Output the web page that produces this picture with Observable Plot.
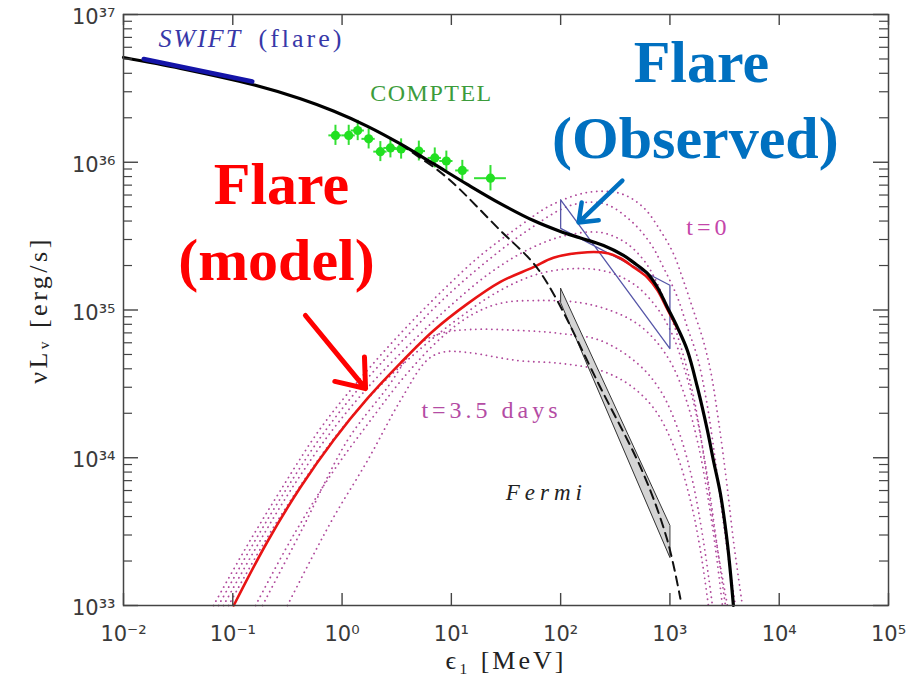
<!DOCTYPE html>
<html>
<head>
<meta charset="utf-8">
<script src="https://cdn.jsdelivr.net/npm/d3@7"></script>
<script src="https://cdn.jsdelivr.net/npm/@observablehq/plot@0.6"></script>
<style>
  html, body { margin: 0; padding: 0; background: #fff; }
  #chart { width: 911px; height: 685px; }
</style>
</head>
<body>
<div id="chart"></div>
<script>
// ---------- axis decades ----------
const xDecades = [1e-2, 1e-1, 1e0, 1e1, 1e2, 1e3, 1e4, 1e5];
const yDecades = [1e33, 1e34, 1e35, 1e36, 1e37];
const yMinorSteps = [2, 3, 4, 5, 6, 7, 8, 9];

// ---------- observations ----------
// SWIFT flare spectrum (energy in MeV, nuL_nu in erg/s)
const swiftE = [0.0153, 0.151];
const swiftL = [5.0e36, 3.52e36];

// COMPTEL points with error bars
const comptelE   = [0.87, 1.15, 1.39, 1.75, 2.24, 2.77, 3.47, 5.04, 7.05, 9.0, 12.6, 22.8];
const comptelElo = [0.757, 1.0, 1.21, 1.52, 1.95, 2.41, 3.02, 4.38, 6.13, 7.83, 10.96, 16.3];
const comptelEhi = [1.0, 1.32, 1.60, 2.01, 2.58, 3.19, 3.99, 5.80, 8.11, 10.35, 14.5, 31.9];
const comptelL   = [1.52e36, 1.52e36, 1.64e36, 1.44e36, 1.18e36, 1.25e36, 1.23e36, 1.19e36, 1.07e36, 1.02e36, 8.8e35, 7.8e35];
const comptelLlo = [1.30e36, 1.30e36, 1.40e36, 1.23e36, 1.01e36, 1.07e36, 1.05e36, 1.02e36, 9.15e35, 8.73e35, 7.5e35, 6.4e35];
const comptelLhi = [1.78e36, 1.78e36, 1.92e36, 1.68e36, 1.38e36, 1.46e36, 1.44e36, 1.39e36, 1.25e36, 1.19e36, 1.03e36, 9.5e35];

// Fermi butterfly (edges at 100 MeV and 1 GeV)
const fermiE  = [100, 1000];
const fermiLo = [1.12e35, 2.11e33];
const fermiHi = [1.40e35, 3.48e33];

// observed flare butterfly (crossed outline)
const observedOutline = [[100, 5.57e35], [1000, 5.48e34], [1000, 1.47e35], [100, 3.57e35], [100, 5.57e35]];

// ---------- model curves ----------
// total emission (solid black)
const totalModel = [[0.01, 5.12e36], [0.0333, 4.32e36], [0.151, 3.36e36], [0.416, 2.69e36], [0.834, 2.22e36],
  [1.71, 1.75e36], [3.42, 1.33e36], [6.85, 9.77e35], [14.0, 7.08e35], [28.1, 5.25e35], [56.4, 4.03e35],
  [99.6, 3.40e35], [152, 3.07e35], [247, 2.73e35], [376, 2.34e35], [464, 2.10e35], [622, 1.77e35],
  [769, 1.42e35], [949, 1.04e35], [1171, 7.62e34], [1445, 5.32e34], [1786, 2.99e34], [2203, 1.53e34],
  [2500, 9.58e33], [2898, 5.7e33], [3357, 2.63e33], [3811, 1e33]];

// quiescent component (dashed black)
const quiescentModel = [[3.42, 1.33e36], [4.50, 1.15e36], [7.16, 9.08e35], [10.5, 7.18e35], [28.1, 3.45e35],
  [56.4, 2.07e35], [85.9, 1.29e35], [231, 2.99e34], [572, 7.8e33], [949, 2.75e33], [1247, 1.11e33]];

// flare component (solid red)
const flareModel = [[0.102, 1e33], [0.2066, 2.69e33], [0.416, 6.31e33], [0.839, 1.32e34], [1.70, 2.51e34],
  [3.42, 4.37e34], [6.85, 7.24e34], [14.0, 1.10e35], [28.1, 1.55e35], [56.4, 1.95e35], [85.9, 2.26e35],
  [176, 2.46e35], [268, 2.42e35], [352, 2.24e35], [464, 1.95e35], [622, 1.66e35], [769, 1.36e35],
  [949, 1.01e35], [1171, 7.5e34]];

// time snapshots of the cooling spectrum, t=0 (cooling0) to t=3.5 days (cooling6)
const cooling0 = [[0.0666, 1e33], [0.1306, 2.43e33], [0.273, 6.0e33], [0.634, 1.58e34], [1.47, 3.44e34],
  [3.42, 6.93e34], [7.94, 1.31e35], [18.5, 2.34e35], [42.9, 3.73e35], [80.7, 5.10e35], [176, 6.24e35],
  [352, 6.15e35], [572, 4.94e35], [818, 3.45e35], [1076, 2.41e35], [1329, 1.58e35], [1641, 9.92e34],
  [1982, 6.51e34], [2350, 3.90e34], [2780, 1.79e34], [3289, 7.02e33], [3811, 2.75e33], [4603, 1e33]];
const cooling1 = [[0.0740, 1e33], [0.1452, 2.43e33], [0.303, 6.0e33], [0.705, 1.53e34], [1.64, 3.33e34],
  [3.80, 6.51e34], [8.83, 1.22e35], [20.5, 2.10e35], [49.7, 3.45e35], [123, 5.10e35], [247, 5.26e35],
  [435, 4.04e35], [663, 2.82e35], [873, 1.94e35], [1171, 1.22e35], [1445, 7.62e34], [1786, 4.77e34],
  [2158, 2.44e34], [2606, 9.58e33], [3155, 3.22e33], [3972, 1e33]];
const cooling2 = [[0.0822, 1e33], [0.1615, 2.43e33], [0.337, 6.0e33], [0.783, 1.48e34], [1.82, 3.13e34],
  [4.23, 5.93e34], [9.82, 1.07e35], [22.8, 1.79e35], [52.9, 2.61e35], [111, 3.19e35], [231, 3.35e35],
  [392, 2.86e35], [597, 2.10e35], [818, 1.36e35], [1054, 8.49e34], [1329, 4.92e34], [1675, 2.44e34],
  [2069, 9.58e33], [2553, 3.22e33], [3357, 1e33]];
const cooling3 = [[0.0914, 1e33], [0.187, 2.55e33], [0.399, 6.19e33], [0.927, 1.48e34], [2.15, 2.99e34],
  [5.00, 5.32e34], [11.6, 8.76e34], [28.1, 1.36e35], [65.3, 1.77e35], [152, 1.91e35], [286, 1.79e35],
  [483, 1.47e35], [736, 1.07e35], [1011, 7.27e34], [1329, 4.21e34], [1711, 2.09e34], [2158, 8.2e33],
  [2661, 2.75e33], [3221, 1e33]];
const cooling4 = [[0.1615, 1e33], [0.337, 2.75e33], [0.783, 7.59e33], [1.82, 1.79e34], [3.80, 3.61e34],
  [7.94, 6.41e34], [15.0, 9.18e34], [28.1, 1.11e35], [65.3, 1.16e35], [152, 1.12e35], [286, 9.92e34],
  [483, 8.23e34], [736, 6.22e34], [1054, 4.21e34], [1416, 2.44e34], [1824, 1.21e34], [2249, 5.14e33],
  [2661, 2.18e33], [3020, 1e33]];
const cooling5 = [[0.187, 1e33], [0.416, 3.12e33], [1.12, 1.31e34], [2.60, 2.99e34], [4.90, 5.75e34],
  [7.94, 6.93e34], [15.0, 7.38e34], [42.9, 7.27e34], [99.6, 6.93e34], [231, 6.22e34], [504, 4.35e34],
  [818, 2.85e34], [1196, 1.53e34], [1607, 7.02e33], [2023, 2.75e33], [2449, 1e33]];
const cooling6 = [[0.316, 1e33], [0.514, 2.02e33], [0.834, 3.94e33], [1.71, 9.58e33], [3.42, 2.44e34],
  [6.04, 4.60e34], [8.5, 5.20e34], [14.0, 5.16e34], [40.3, 4.55e34], [99.6, 4.35e34], [231, 3.90e34],
  [435, 3.08e34], [736, 2.09e34], [1122, 1.12e34], [1541, 5.14e33], [1901, 2.36e33], [2249, 1e33]];

// ---------- annotations (anchored in data units) ----------
const swiftLabel    = [{e: 0.0209, l: 6.81e36}];
const flareWord     = [{e: 0.172, l: 6.81e36}];
const comptelLabel  = [{e: 6.58, l: 2.95e36}];
const tStartLabel   = [{e: 2249, l: 3.60e35}];
const tEndLabel     = [{e: 23.3, l: 2.11e34}];
const fermiLabel    = [{e: 74.1, l: 5.77e33}];
const modelTitle    = [{e: 0.279, l: 7.09e35, text: "Flare"}, {e: 0.251, l: 2.14e35, text: "(model)"}];
const observedTitle = [{e: 1941, l: 4.68e36, text: "Flare"}, {e: 1710, l: 1.45e36, text: "(Observed)"}];
const modelArrow    = [{e1: 0.462, l1: 9.18e34, e2: 1.64, l2: 2.94e34}];
const observedArrow = [{e1: 367, l1: 7.52e35, e2: 146, l2: 3.91e35}];

const yTitle = "\u03BDL\u1D65 [erg/s]";
const xTitle = "\u03F5\u2081 [MeV]";

// ---------- tables for the marks ----------
const pairs = a => a.map(([e, l]) => ({e, l}));
const coolingRows = [cooling0, cooling1, cooling2, cooling3, cooling4, cooling5, cooling6]
  .flatMap((curve, i) => curve.map(([e, l]) => ({snapshot: i, e, l})));
const comptelRows = comptelE.map((e, i) => ({
  e, l: comptelL[i], elo: comptelElo[i], ehi: comptelEhi[i], llo: comptelLlo[i], lhi: comptelLhi[i]
}));
const fermiRows = fermiE.map((e, i) => ({e, lo: fermiLo[i], hi: fermiHi[i]}));
const fermiOutline = [
  {e: fermiE[0], l: fermiHi[0]}, {e: fermiE[1], l: fermiHi[1]},
  {e: fermiE[1], l: fermiLo[1]}, {e: fermiE[0], l: fermiLo[0]}, {e: fermiE[0], l: fermiHi[0]}
];
const swiftRows = swiftE.map((e, i) => ({e, l: swiftL[i]}));
const yMinor = yDecades.slice(0, -1).flatMap(d => yMinorSteps.map(m => m * d));

// ---------- layout ----------
const W = 911, H = 685;
const M = {top: 14, right: 23, bottom: 80, left: 123};
const frameW = W - M.left - M.right;
const frameH = H - M.top - M.bottom;
const axisInk = "#444";

const SUP = {"-": "\u207B", "0": "\u2070", "1": "\u00B9", "2": "\u00B2", "3": "\u00B3", "4": "\u2074",
             "5": "\u2075", "6": "\u2076", "7": "\u2077", "8": "\u2078", "9": "\u2079"};
const decadeLabel = d => "10" + String(Math.round(Math.log10(d))).replace(/./g, c => SUP[c]);

const serif = "'Liberation Serif', 'DejaVu Serif', serif";

const chart = Plot.plot({
  width: W, height: H,
  marginTop: M.top, marginRight: M.right, marginBottom: M.bottom, marginLeft: M.left,
  x: {type: "log", domain: [1e-2, 1e5]},
  y: {type: "log", domain: [1e33, 1e37]},
  style: {fontFamily: "'DejaVu Sans', sans-serif", background: "#fff", overflow: "visible"},
  marks: [
    // cooling snapshots
    Plot.line(coolingRows, {x: "e", y: "l", z: "snapshot", stroke: "#b04a9c", strokeWidth: 1.8,
      strokeDasharray: "0.1,5.2", strokeLinecap: "round", curve: "catmull-rom"}),
    // Fermi butterfly
    Plot.areaY(fermiRows, {x: "e", y1: "lo", y2: "hi", fill: "#d4d4d4"}),
    Plot.line(fermiOutline, {x: "e", y: "l", stroke: "#333", strokeWidth: 1}),
    // observed butterfly
    Plot.line(pairs(observedOutline), {x: "e", y: "l", stroke: "#5656a8", strokeWidth: 1.3}),
    // flare model
    Plot.line(pairs(flareModel), {x: "e", y: "l", stroke: "#e81414", strokeWidth: 2.6, curve: "catmull-rom"}),
    // COMPTEL
    Plot.ruleX(comptelRows, {x: "e", y1: "llo", y2: "lhi", stroke: "#33e033", strokeWidth: 2}),
    Plot.ruleY(comptelRows, {y: "l", x1: "elo", x2: "ehi", stroke: "#33e033", strokeWidth: 2}),
    Plot.dot(comptelRows, {x: "e", y: "l", r: 4.6, fill: "#22e022", stroke: "none"}),
    // quiescent and total
    Plot.line(pairs(quiescentModel), {x: "e", y: "l", stroke: "#111", strokeWidth: 2,
      strokeDasharray: "9,6", curve: "catmull-rom"}),
    Plot.line(pairs(totalModel), {x: "e", y: "l", stroke: "#000", strokeWidth: 3.2, curve: "catmull-rom"}),
    // SWIFT segment
    Plot.line(swiftRows, {x: "e", y: "l", stroke: "#1414a8", strokeWidth: 4.5}),

    // labels
    Plot.text(swiftLabel, {x: "e", y: "l", text: () => "SWIFT", textAnchor: "start", fontFamily: serif,
      fontStyle: "italic", fontSize: 26, fill: "#3838a8"}),
    Plot.text(flareWord, {x: "e", y: "l", text: () => "(flare)", textAnchor: "start", fontFamily: serif,
      fontSize: 26, fill: "#3838a8"}),
    Plot.text(comptelLabel, {x: "e", y: "l", text: () => "COMPTEL", fontFamily: serif, fontSize: 24,
      fill: "#3c9c3c"}),
    Plot.text(tStartLabel, {x: "e", y: "l", text: () => "t=0", fontFamily: serif, fontSize: 24,
      fill: "#c446aa"}),
    Plot.text(tEndLabel, {x: "e", y: "l", text: () => "t=3.5 days", fontFamily: serif, fontSize: 24,
      fill: "#b44ca4"}),
    Plot.text(fermiLabel, {x: "e", y: "l", text: () => "Fermi", fontFamily: serif, fontStyle: "italic",
      fontSize: 23, fill: "#222"}),
    Plot.text(modelTitle, {x: "e", y: "l", text: "text", fontFamily: serif, fontWeight: "bold",
      fontSize: 60, fill: "#ff0000"}),
    Plot.text(observedTitle, {x: "e", y: "l", text: "text", fontFamily: serif, fontWeight: "bold",
      fontSize: 60, fill: "#0070c0"}),

    // pointers
    Plot.arrow(modelArrow, {x1: "e1", y1: "l1", x2: "e2", y2: "l2", stroke: "#ff0000", strokeWidth: 5,
      headLength: 24, headAngle: 75}),
    Plot.arrow(observedArrow, {x1: "e1", y1: "l1", x2: "e2", y2: "l2", stroke: "#0070c0", strokeWidth: 4.5,
      headLength: 22, headAngle: 75}),

    // frame and inward ticks
    Plot.frame({stroke: axisInk, strokeWidth: 1.5}),
    Plot.ruleY(yDecades, {insetRight: frameW - 15, stroke: axisInk, strokeWidth: 1.4}),
    Plot.ruleY(yDecades, {insetLeft: frameW - 15, stroke: axisInk, strokeWidth: 1.4}),
    Plot.ruleY(yMinor, {insetRight: frameW - 9, stroke: axisInk, strokeWidth: 1.2}),
    Plot.ruleY(yMinor, {insetLeft: frameW - 9, stroke: axisInk, strokeWidth: 1.2}),
    Plot.ruleX(xDecades, {insetTop: frameH - 12, stroke: axisInk, strokeWidth: 1.4}),
    Plot.ruleX(xDecades, {insetBottom: frameH - 11, stroke: axisInk, strokeWidth: 1.4}),

    // tick labels
    Plot.axisX(xDecades, {anchor: "bottom", tickSize: 0, tickPadding: 21, tickFormat: decadeLabel,
      fontSize: 21, color: "#3a3a3a", label: null}),
    Plot.axisY(yDecades, {anchor: "left", tickSize: 0, tickPadding: 8, tickFormat: decadeLabel,
      fontSize: 21, color: "#3a3a3a", label: null, dy: 3}),

    // axis titles
    Plot.text([yTitle], {frameAnchor: "left", dx: -85, rotate: -90, textAnchor: "middle",
      fontFamily: serif, fontSize: 26, fill: "#222"}),
    Plot.text([xTitle], {frameAnchor: "bottom", dy: 63, textAnchor: "middle",
      fontFamily: serif, fontSize: 26, fill: "#222"})
  ]
});

// wide-set lettering for the plot's serif labels
const spacing = new Map([
  ["SWIFT", "2px"], ["(flare)", "3px"], ["COMPTEL", "1.5px"], ["t=0", "4px"],
  ["t=3.5 days", "4px"], ["Fermi", "5px"], [yTitle, "3.5px"], [xTitle, "3px"]
]);
d3.select(chart).selectAll("text").each(function () {
  const ls = spacing.get(this.textContent);
  if (ls) this.style.letterSpacing = ls;
});

document.getElementById("chart").appendChild(chart);
</script>
</body>
</html>
